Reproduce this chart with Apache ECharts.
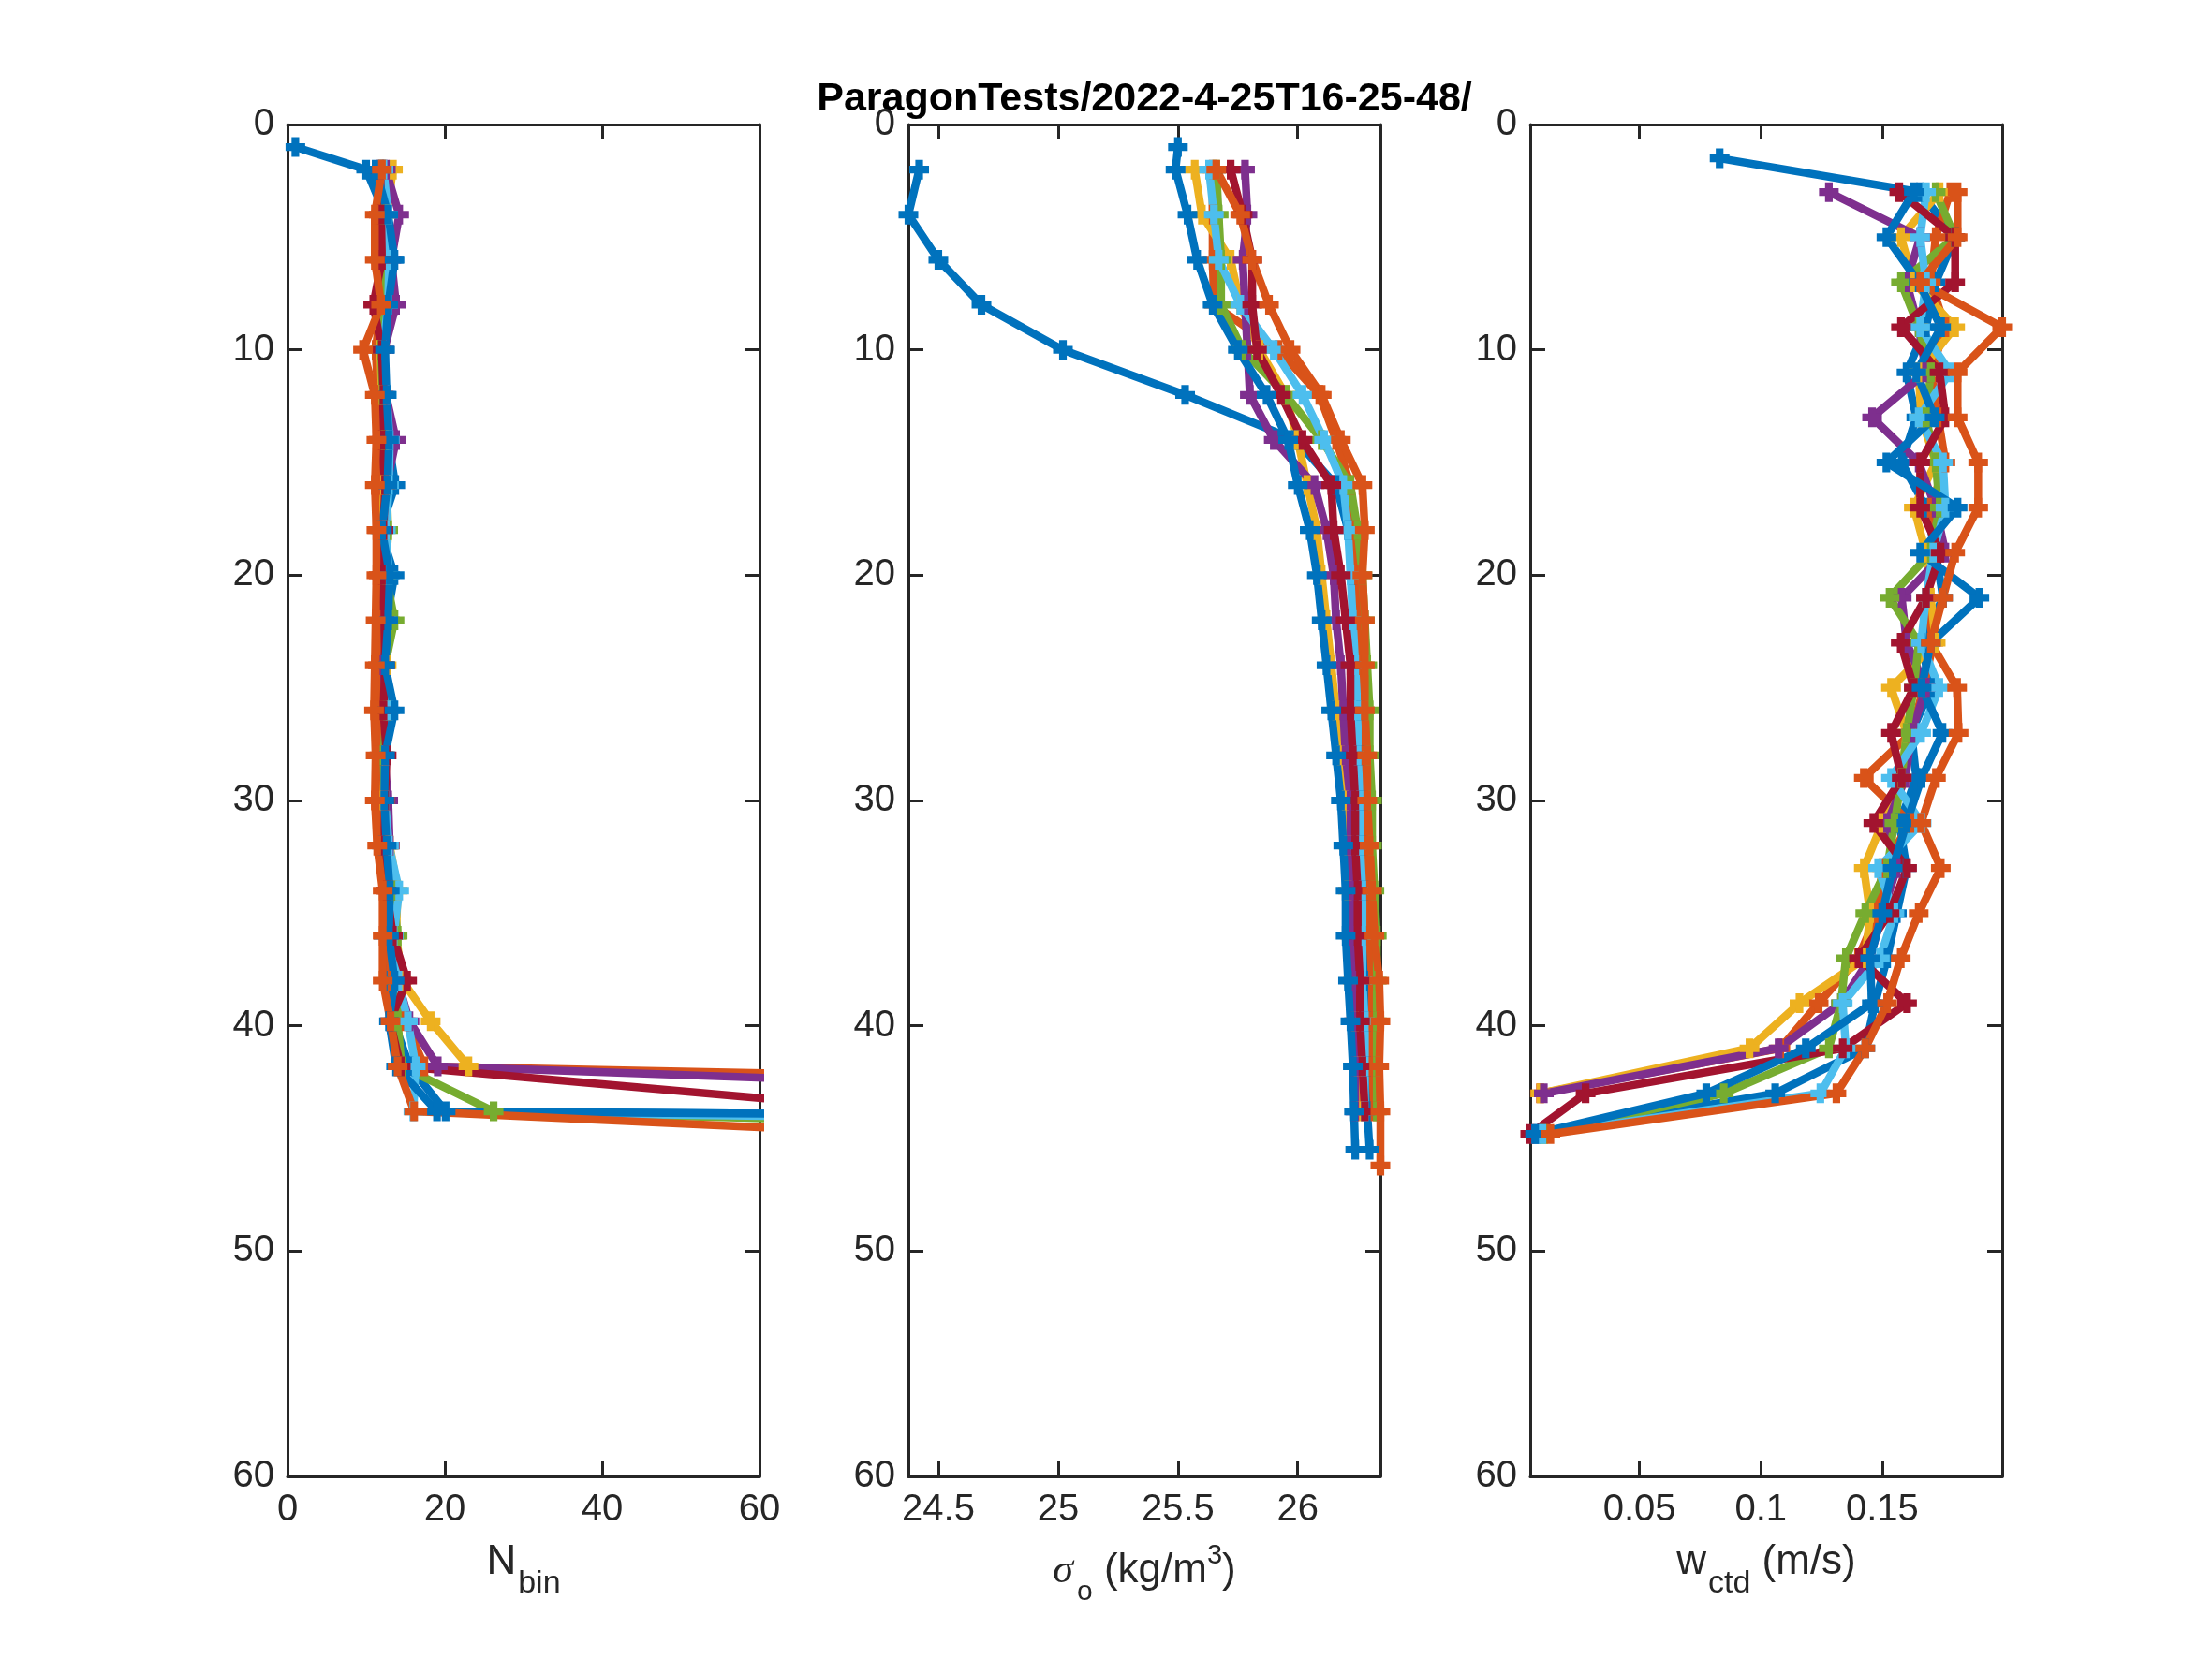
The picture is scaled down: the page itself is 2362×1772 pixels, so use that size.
<!DOCTYPE html>
<html>
<head>
<meta charset="utf-8">
<script src="https://cdn.jsdelivr.net/npm/echarts@6/dist/echarts.min.js"></script>
<style>
html, body { margin: 0; background: #fff; }
#main { width: 2362px; height: 1772px; }
</style>
</head>
<body>
<div id="main"></div>
<script>
// MATLAB default colour order, cycled over the 9 casts
var castColors = ['#0072BD', '#D95319', '#EDB120', '#7E2F8E', '#77AC30', '#4DBEEE', '#A2142F', '#0072BD', '#D95319'];

var titleText = 'ParagonTests/2022-4-25T16-25-48/';

// tick labels
var depthTicks = [0, 10, 20, 30, 40, 50, 60];
var xTicksNbin = [0, 20, 40, 60];
var xTicksSigma = [24.5, 25, 25.5, 26];
var xTicksW = [0.05, 0.1, 0.15];

// ---- panel 1: N_bin ----
var depthNbin = [1, 2, 4, 6, 8, 10, 12, 14, 16, 18, 20, 22, 24, 26, 28, 30, 32, 34, 36, 38, 39.8, 41.8, 43.8, 45.8];
var nbinCast1 = [1, 10, 12.4, 13.5, 12.4, 12.3, 12.3, 12.8, 13.7, 11.8, 13.6, 12.6, 12.2, 12.8, 12.2, 12.3, 12.0, 13.0, 12.2, 13.0, 13.5, 15.5, 20.1, 820];
var nbinCast2 = [null, 12.2, 11.6, 11.8, 11.9, 11.2, 11.5, 11.6, 11.8, 11.4, 11.6, 12.0, 11.5, 11.8, 11.7, 12.0, 12.3, 12.5, 12.8, 13.2, 15.0, 17.4, 301, null];
var nbinCast3 = [null, 13.4, 12.6, 12.8, 12.6, 11.8, 12.0, 12.4, 12.3, 12.0, 12.5, 13.0, 12.6, 12.8, 12.4, 12.2, 13.0, 14.0, 13.8, 14.6, 18.2, 23.0, null, null];
var nbinCast4 = [null, 12.5, 14.2, 13.2, 13.8, 12.3, 12.5, 13.8, 12.6, 12.1, 12.4, 12.8, 12.2, 12.6, 12.3, 12.8, 13.0, 13.2, 13.4, 14.0, 15.5, 19.1, 183, null];
var nbinCast5 = [null, 12.0, 12.3, 12.5, 12.2, 11.9, 12.1, 12.3, 12.6, 12.8, 12.5, 13.6, 12.4, 12.6, 12.2, 12.4, 12.8, 13.4, 14.0, 13.8, 14.0, 14.5, 26.2, 251];
var nbinCast6 = [null, 12.2, 12.8, 12.9, 12.8, 12.1, 12.6, 13.0, 12.9, 12.5, 12.9, 12.6, 12.4, 13.0, 12.5, 12.4, 12.9, 14.2, 13.5, 14.1, 15.3, 16.3, 16.0, 456];
var nbinCast7 = [null, 11.8, 11.9, 12.0, 10.9, 12.0, 12.2, 12.0, 12.4, 12.2, 12.0, 12.3, 12.4, 12.2, 12.6, 12.4, 12.3, 12.6, 13.4, 15.2, 13.0, 14.4, 79.5, null];
var nbinCast8 = [null, 11.2, 12.8, 13.6, 12.8, 12.4, 12.6, 12.9, 12.7, 12.0, 13.0, 12.8, 12.4, 13.6, 12.4, 12.3, 12.6, 13.0, 12.9, 13.6, 12.9, 13.8, 19.0, 900];
var nbinCast9 = [null, 12.0, 11.1, 11.1, 11.9, 9.6, 11.1, 11.3, 11.1, 11.3, 11.3, 11.2, 11.1, 11.0, 11.2, 11.1, 11.4, 12.1, 12.1, 12.1, 13.1, 14.0, 16.1, 142];

// ---- panel 2: sigma ----
var depthSigma = [1, 2, 4, 6, 8, 10, 12, 14, 16, 18, 20, 22, 24, 26, 28, 30, 32, 34, 36, 38, 39.8, 41.8, 43.8, 45.5, 46.2];
var sigmaCast1 = [null, 24.42, 24.375, 24.50, 24.68, 25.02, 25.53, 25.99, 26.16, 26.21, 26.23, 26.24, 26.25, 26.26, 26.26, 26.27, 26.27, 26.28, 26.28, 26.28, 26.29, 26.29, 26.29, 26.30, null];
var sigmaCast2 = [null, 25.645, 25.645, 25.645, 25.65, 25.92, 26.09, 26.16, 26.22, 26.24, 26.25, 26.26, 26.27, 26.28, 26.28, 26.29, 26.29, 26.30, 26.30, 26.31, 26.31, 26.31, 26.32, null, null];
var sigmaCast3 = [null, 25.57, 25.60, 25.72, 25.76, 25.84, 25.95, 26.00, 26.04, 26.08, 26.10, 26.12, 26.14, 26.16, 26.18, 26.20, 26.21, 26.21, 26.22, 26.23, 26.24, 26.25, 26.26, null, null];
var sigmaCast4 = [null, 25.78, 25.79, 25.77, 25.78, 25.79, 25.80, 25.90, 26.07, 26.12, 26.15, 26.16, 26.18, 26.19, 26.20, 26.22, 26.22, 26.23, 26.23, 26.235, 26.235, 26.24, 26.24, null, null];
var sigmaCast5 = [null, 25.66, 25.67, 25.68, 25.68, 25.77, 25.95, 26.10, 26.22, 26.25, 26.27, 26.28, 26.29, 26.30, 26.30, 26.31, 26.31, 26.32, 26.33, 26.33, 26.33, 26.33, 26.33, null, null];
var sigmaCast6 = [null, 25.63, 25.65, 25.67, 25.76, 25.90, 26.02, 26.11, 26.19, 26.21, 26.22, 26.23, 26.24, 26.25, 26.25, 26.26, 26.26, 26.27, 26.27, 26.27, 26.28, 26.28, 26.28, null, null];
var sigmaCast7 = [null, 25.72, 25.77, 25.81, 25.81, 25.83, 25.93, 26.02, 26.14, 26.15, 26.18, 26.20, 26.22, 26.22, 26.23, 26.24, 26.24, 26.25, 26.25, 26.26, 26.26, 26.27, 26.28, null, null];
var sigmaCast8 = [25.50, 25.49, 25.54, 25.58, 25.645, 25.75, 25.87, 25.96, 26.00, 26.05, 26.08, 26.10, 26.12, 26.14, 26.16, 26.18, 26.19, 26.20, 26.20, 26.21, 26.22, 26.23, 26.235, 26.24, null];
var sigmaCast9 = [null, 25.66, 25.76, 25.81, 25.88, 25.97, 26.10, 26.18, 26.27, 26.28, 26.27, 26.28, 26.28, 26.28, 26.29, 26.29, 26.30, 26.31, 26.32, 26.34, 26.345, 26.34, 26.345, null, 26.345];

// ---- panel 3: w_ctd ----
var depthW = [1.5, 3, 5, 7, 9, 11, 13, 15, 17, 19, 21, 23, 25, 27, 29, 31, 33, 35, 37, 39, 41, 43, 44.8];
var wCast1 = [0.083, 0.1656, 0.180, 0.172, 0.168, 0.160, 0.164, 0.158, 0.168, 0.172, 0.175, 0.166, 0.170, 0.162, 0.164, 0.157, 0.160, 0.156, 0.152, 0.147, 0.143, 0.1059, 0.008];
var wCast2 = [null, 0.178, 0.172, 0.170, 0.176, 0.170, 0.173, 0.176, 0.170, 0.172, 0.168, 0.171, 0.167, 0.162, 0.1424, 0.1616, 0.150, 0.148, 0.140, 0.1238, 0.108, 0.009, null];
var wCast3 = [null, 0.1736, 0.1577, 0.163, 0.180, 0.165, 0.166, 0.172, 0.163, 0.168, 0.170, 0.172, 0.1536, 0.160, 0.158, 0.150, 0.1424, 0.145, 0.143, 0.1159, 0.0953, 0.0092, null];
var wCast4 = [null, 0.128, 0.1656, 0.160, 0.165, 0.168, 0.1458, 0.165, 0.172, 0.176, 0.158, 0.160, 0.168, 0.162, 0.1596, 0.152, 0.156, 0.150, 0.145, 0.133, 0.1073, 0.0106, null];
var wCast5 = [null, 0.172, 0.180, 0.1577, 0.165, 0.170, 0.168, 0.172, 0.1736, 0.170, 0.153, 0.165, 0.163, 0.160, 0.158, 0.155, 0.152, 0.143, 0.135, 0.133, 0.128, 0.0847, 0.0106];
var wCast6 = [null, 0.168, 0.1656, 0.168, 0.1656, 0.178, 0.165, 0.175, 0.176, 0.171, 0.168, 0.166, 0.1735, 0.166, 0.1536, 0.1662, 0.1483, 0.155, 0.149, 0.1337, 0.135, 0.1245, 0.010];
var wCast7 = [null, 0.157, 0.180, 0.180, 0.1577, 0.1736, 0.176, 0.1656, 0.1656, 0.174, 0.168, 0.1576, 0.163, 0.1536, 0.158, 0.1463, 0.1602, 0.153, 0.1404, 0.1602, 0.1337, 0.0278, 0.005];
var wCast8 = [null, 0.163, 0.1517, 0.165, 0.1742, 0.164, 0.1716, 0.1517, 0.181, 0.1656, 0.190, 0.170, 0.1662, 0.1748, 0.1662, 0.160, 0.1543, 0.150, 0.145, 0.1457, 0.1185, 0.0775, 0.007];
var wCast9 = [null, 0.181, 0.181, 0.1656, 0.1994, 0.181, 0.181, 0.1895, 0.1895, 0.180, 0.175, 0.170, 0.1808, 0.1814, 0.1721, 0.166, 0.1741, 0.165, 0.1576, 0.152, 0.143, 0.1311, 0.0133];

var axisColor = '#262626';
var fontFam = 'Liberation Sans, Arial, Helvetica, sans-serif';
var plusMarker = 'path://M5.5,0h7v5.5h5.5v7h-5.5v5.5h-7v-5.5h-5.5v-7h5.5z';

function pairs(depth, vals) {
    var out = [];
    for (var i = 0; i < depth.length; i++) {
        if (vals[i] != null) out.push([vals[i], depth[i]]);
    }
    return out;
}

var panels = [
    {
        left: 307, min: 0, max: 60, ticks: xTicksNbin, depth: depthNbin,
        casts: [nbinCast1, nbinCast2, nbinCast3, nbinCast4, nbinCast5, nbinCast6, nbinCast7, nbinCast8, nbinCast9],
        name: '{n|N}{s|bin}', nameGap: 70,
        rich: {
            n: { fontSize: 44, fontFamily: fontFam, color: axisColor, verticalAlign: 'top' },
            s: { fontSize: 34, fontFamily: fontFam, color: axisColor, verticalAlign: 'top', padding: [28, 0, 0, 2] }
        }
    },
    {
        left: 970, min: 24.375, max: 26.345, ticks: xTicksSigma, depth: depthSigma,
        casts: [sigmaCast1, sigmaCast2, sigmaCast3, sigmaCast4, sigmaCast5, sigmaCast6, sigmaCast7, sigmaCast8, sigmaCast9],
        name: '{g|σ}{s|o}{t| (kg/m}{p|3}{t|)}', nameGap: 70,
        rich: {
            g: { fontSize: 44, fontFamily: 'Liberation Serif, serif', fontStyle: 'italic', color: axisColor, verticalAlign: 'top', padding: [9, 0, 0, 0] },
            s: { fontSize: 30, fontFamily: fontFam, color: axisColor, verticalAlign: 'top', padding: [39, 0, 0, 4] },
            t: { fontSize: 44, fontFamily: fontFam, color: axisColor, verticalAlign: 'top', padding: [9, 0, 0, 0] },
            p: { fontSize: 29, fontFamily: fontFam, color: axisColor, verticalAlign: 'top', padding: [0, 0, 0, 0] }
        }
    },
    {
        left: 1634, min: 0.005, max: 0.1994, ticks: xTicksW, depth: depthW,
        casts: [wCast1, wCast2, wCast3, wCast4, wCast5, wCast6, wCast7, wCast8, wCast9],
        name: '{n|w}{s|ctd}{n| (m/s)}', nameGap: 70,
        rich: {
            n: { fontSize: 44, fontFamily: fontFam, color: axisColor, verticalAlign: 'top' },
            s: { fontSize: 34, fontFamily: fontFam, color: axisColor, verticalAlign: 'top', padding: [28, 0, 0, 2] }
        }
    }
];

var grids = [], xAxes = [], yAxes = [], series = [];

var lineOpt = { show: true, onZero: false, lineStyle: { color: axisColor, width: 3 } };
var tickOpt = function (vals) {
    return { show: true, inside: true, length: 16, customValues: vals, lineStyle: { color: axisColor, width: 3 } };
};

panels.forEach(function (p, i) {
    grids.push({ left: p.left, top: 133, width: 504, height: 1444, containLabel: false });
    xAxes.push({
        type: 'value', gridIndex: i, position: 'bottom', min: p.min, max: p.max,
        axisLine: lineOpt, axisTick: tickOpt(p.ticks), splitLine: { show: false },
        axisLabel: { customValues: p.ticks, fontSize: 40, fontFamily: fontFam, color: axisColor, margin: 16 },
        name: p.name, nameLocation: 'middle', nameGap: p.nameGap,
        nameTextStyle: { rich: p.rich }
    });
    xAxes.push({
        type: 'value', gridIndex: i, position: 'top', min: p.min, max: p.max,
        axisLine: lineOpt, axisTick: tickOpt(p.ticks), splitLine: { show: false },
        axisLabel: { show: false }
    });
    yAxes.push({
        type: 'value', gridIndex: i, position: 'left', inverse: true, min: 0, max: 60,
        axisLine: lineOpt, axisTick: tickOpt(depthTicks), splitLine: { show: false },
        axisLabel: { customValues: depthTicks, fontSize: 40, fontFamily: fontFam, color: axisColor, margin: 14 }
    });
    yAxes.push({
        type: 'value', gridIndex: i, position: 'right', inverse: true, min: 0, max: 60,
        axisLine: lineOpt, axisTick: tickOpt(depthTicks), splitLine: { show: false },
        axisLabel: { show: false }
    });
    p.casts.forEach(function (vals, k) {
        series.push({
            type: 'line',
            xAxisIndex: i * 2, yAxisIndex: i * 2,
            data: pairs(p.depth, vals),
            clip: true,
            color: castColors[k],
            lineStyle: { width: 8.5, color: castColors[k] },
            itemStyle: { color: castColors[k] },
            symbol: plusMarker, symbolSize: 21, showSymbol: true,
            emphasis: { disabled: true },
            silent: true,
            z: 2
        });
    });
});

var myChart = echarts.init(document.getElementById('main'));
var option = {
    animation: false,
    backgroundColor: '#ffffff',
    grid: grids,
    xAxis: xAxes,
    yAxis: yAxes,
    series: series,
    graphic: [{
        type: 'text', x: 1222, y: 106,
        style: { text: titleText, fill: '#000', font: 'bold 43px ' + fontFam, align: 'center', verticalAlign: 'middle' }
    }]
};
myChart.setOption(option);
</script>
</body>
</html>
